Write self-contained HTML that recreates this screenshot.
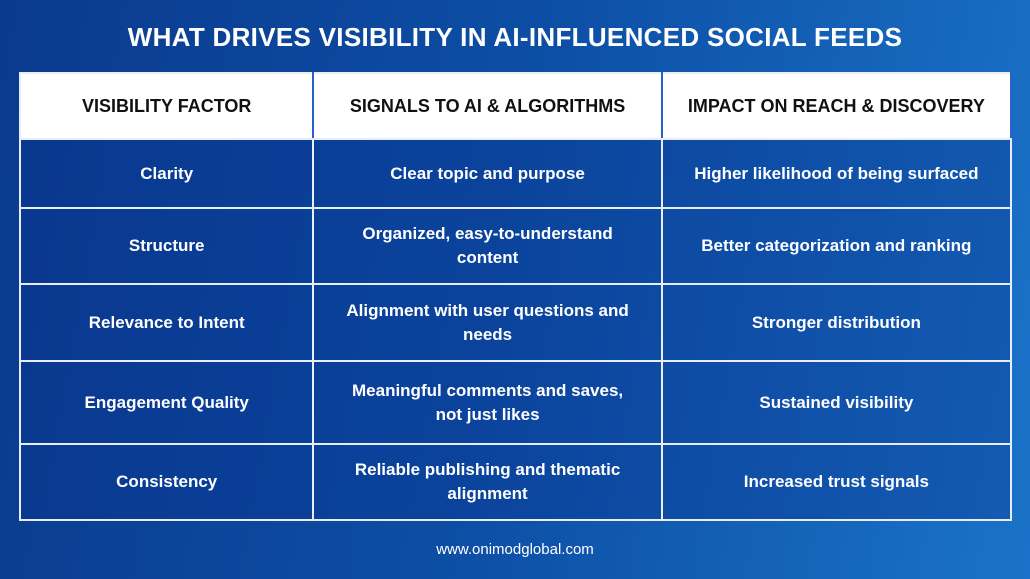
<!DOCTYPE html>
<html><head><style>
html,body{margin:0;padding:0}
body{width:1030px;height:579px;overflow:hidden;background:linear-gradient(100deg,#0a3a8e 0%,#0d4fa6 50%,#1a73c8 100%);font-family:"Liberation Sans",sans-serif;position:relative}
h1{position:absolute;top:22px;left:0;width:1030px;margin:0;text-align:center;color:#fff;font-size:26px;font-weight:bold;letter-spacing:0.3px}
table{position:absolute;left:19px;top:72px;width:993px;border-collapse:collapse}
td,th{border:2px solid #e8eef8;text-align:center;color:#fff;font-weight:bold;font-size:17px;line-height:24px;padding:0 14px}
td.m{padding:0 28px}
th{background:#fff;color:#111;height:64px;font-size:18px;border-right-color:#2a5fd0}
td{background:rgba(10,50,140,0.35)}
.foot{position:absolute;top:541px;left:0;width:1030px;text-align:center;color:#fff;font-size:15px}
</style></head><body>
<h1>WHAT DRIVES VISIBILITY IN AI-INFLUENCED SOCIAL FEEDS</h1>
<table>
<colgroup><col style="width:294px"><col style="width:349px"><col style="width:350px"></colgroup>
<tr><th>VISIBILITY FACTOR</th><th>SIGNALS TO AI &amp; ALGORITHMS</th><th>IMPACT ON REACH &amp; DISCOVERY</th></tr>
<tr style="height:69px"><td>Clarity</td><td class="m">Clear topic and purpose</td><td>Higher likelihood of being surfaced</td></tr>
<tr style="height:76px"><td>Structure</td><td class="m">Organized, easy-to-understand content</td><td>Better categorization and ranking</td></tr>
<tr style="height:77px"><td>Relevance to Intent</td><td class="m">Alignment with user questions and needs</td><td>Stronger distribution</td></tr>
<tr style="height:83px"><td>Engagement Quality</td><td class="m">Meaningful comments and saves,<br>not just likes</td><td>Sustained visibility</td></tr>
<tr style="height:76px"><td>Consistency</td><td class="m">Reliable publishing and thematic alignment</td><td>Increased trust signals</td></tr>
</table>
<div class="foot">www.onimodglobal.com</div>
</body></html>
